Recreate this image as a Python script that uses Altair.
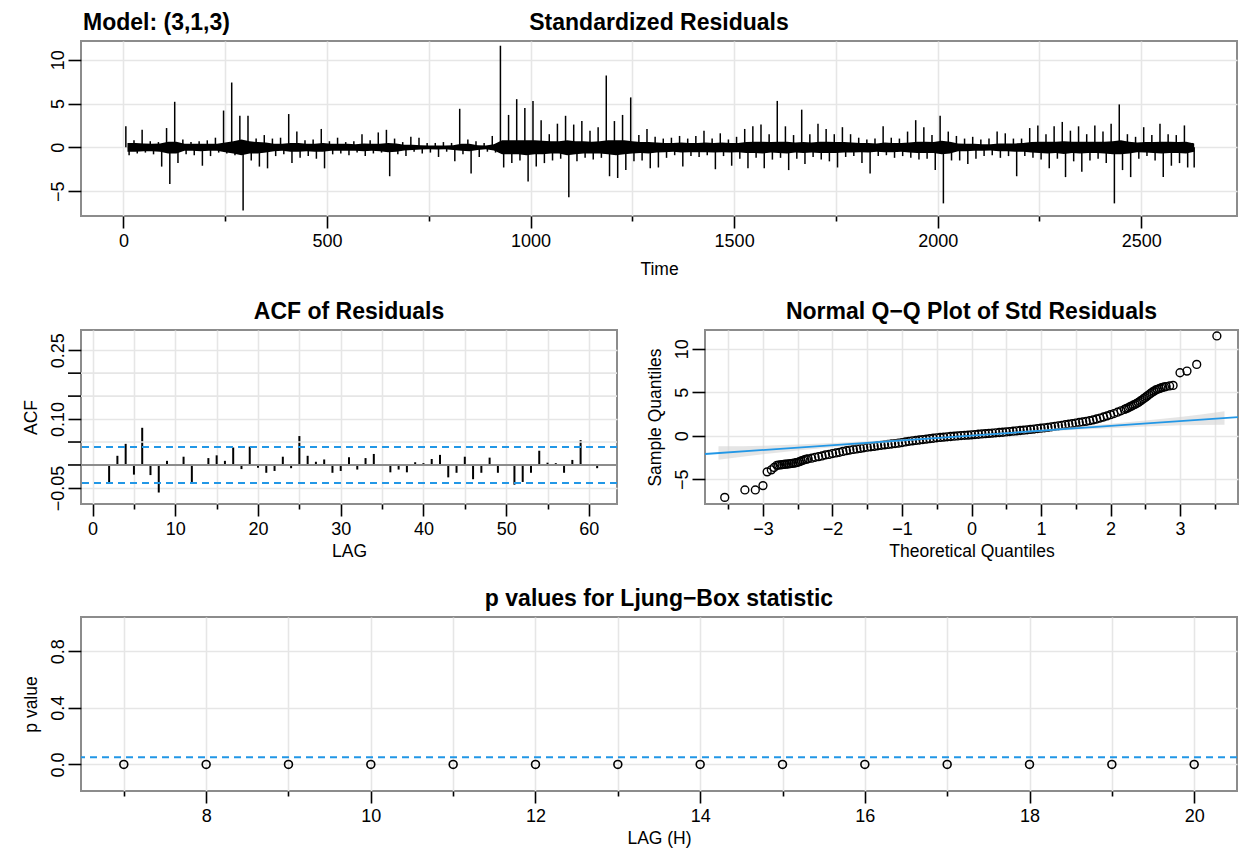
import altair as alt
import pandas as pd

FONT = "Liberation Sans"
BLUE = "#2297E6"

# ---------------- Standardized residuals: per 20-step bin extremes
res_hi = [2.4, 0.8, 2.0, 0.7, 0.6, 2.2, 5.2, 0.9, 0.6, 0.7,
          0.8, 1.1, 4.2, 7.4, 3.6, 3.6, 1.0, 1.4, 1.0, 1.1,
          3.8, 1.8, 0.8, 0.9, 2.1, 0.7, 1.1, 0.6, 0.7, 1.5,
          0.8, 1.7, 2.0, 1.0, 0.6, 1.2, 1.1, 0.5, 0.5, 0.6,
          0.5, 4.4, 0.9, 0.7, 0.5, 1.3, 11.6, 3.7, 5.5, 4.5,
          5.3, 3.1, 1.5, 2.7, 3.6, 2.6, 3.0, 1.9, 2.3, 8.2,
          3.0, 3.7, 5.7, 1.4, 2.1, 1.2, 1.0, 1.1, 1.3, 1.0,
          1.3, 1.9, 1.0, 1.6, 0.9, 1.2, 2.1, 2.4, 2.6, 1.5,
          5.3, 2.4, 1.4, 4.3, 1.5, 2.7, 2.1, 1.5, 2.3, 1.5,
          1.1, 0.9, 1.0, 2.4, 1.1, 1.0, 1.8, 3.1, 2.3, 1.4,
          3.6, 1.8, 1.3, 1.0, 1.2, 0.9, 1.0, 1.8, 1.6, 1.0,
          1.0, 2.2, 2.5, 1.5, 2.4, 2.9, 1.9, 2.4, 1.5, 2.5,
          1.8, 2.7, 4.9, 1.5, 1.2, 2.3, 1.4, 2.7, 1.5, 1.4,
          2.5, 0.5]
res_lo = [-0.9, -0.7, -0.6, -0.8, -2.2, -4.2, -1.8, -0.8, -0.9, -2.1,
          -1.0, -0.6, -0.7, -0.9, -7.2, -1.5, -2.2, -2.4, -1.0, -0.8,
          -1.8, -1.2, -1.0, -1.3, -2.4, -0.8, -0.7, -0.9, -0.6, -1.0,
          -0.7, -0.6, -3.3, -0.8, -1.0, -0.5, -0.7, -0.6, -1.1, -0.5,
          -1.6, -0.8, -3.0, -1.1, -0.5, -0.6, -2.3, -1.8, -1.5, -3.9,
          -2.2, -1.8, -1.5, -1.3, -5.7, -1.6, -1.2, -1.4, -1.2, -3.3,
          -3.5, -2.6, -1.6, -1.5, -2.4, -2.3, -1.2, -0.9, -2.2, -1.0,
          -1.1, -0.9, -2.5, -1.0, -2.1, -1.3, -2.4, -1.2, -2.4, -1.4,
          -1.2, -2.6, -1.3, -1.9, -1.1, -1.4, -1.6, -2.3, -1.1, -1.0,
          -1.8, -3.0, -1.0, -0.9, -1.2, -1.0, -1.2, -1.4, -1.3, -2.6,
          -6.4, -1.5, -1.5, -1.9, -1.3, -1.0, -0.9, -1.2, -1.0, -3.3,
          -1.0, -1.2, -1.4, -2.4, -1.3, -3.4, -1.6, -2.8, -1.5, -1.3,
          -1.8, -6.4, -2.6, -3.4, -1.3, -1.0, -1.5, -3.4, -2.1, -1.8,
          -2.3, -2.3]
# dense core of the trace per bin (where the black line is solid)
core_hi = [0.5, 0.5, 0.45, 0.4, 0.45, 0.65, 0.65, 0.4, 0.4, 0.4,
           0.4, 0.4, 0.55, 0.7, 0.9, 0.7, 0.6, 0.55, 0.4, 0.4,
           0.5, 0.5, 0.4, 0.4, 0.5, 0.4, 0.4, 0.4, 0.35, 0.45,
           0.4, 0.4, 0.5, 0.45, 0.3, 0.3, 0.25, 0.22, 0.22, 0.22,
           0.25, 0.4, 0.4, 0.25, 0.22, 0.35, 0.8, 0.8, 0.8, 0.8,
           0.8, 0.75, 0.7, 0.7, 0.8, 0.7, 0.7, 0.65, 0.7, 0.8,
           0.8, 0.8, 0.7, 0.6, 0.6, 0.55, 0.5, 0.5, 0.55, 0.5,
           0.5, 0.55, 0.5, 0.55, 0.5, 0.5, 0.6, 0.65, 0.65, 0.6,
           0.65, 0.65, 0.55, 0.6, 0.55, 0.65, 0.65, 0.6, 0.6, 0.55,
           0.5, 0.5, 0.45, 0.55, 0.5, 0.5, 0.55, 0.65, 0.65, 0.6,
           0.75, 0.65, 0.45, 0.4, 0.4, 0.35, 0.35, 0.45, 0.45, 0.45,
           0.5, 0.6, 0.65, 0.65, 0.65, 0.7, 0.65, 0.65, 0.65, 0.65,
           0.65, 0.7, 0.8, 0.65, 0.55, 0.6, 0.6, 0.65, 0.65, 0.6,
           0.65, 0.45]
core_lo = [-0.5, -0.5, -0.45, -0.45, -0.5, -0.7, -0.7, -0.4, -0.4, -0.45,
           -0.4, -0.4, -0.55, -0.7, -0.9, -0.7, -0.7, -0.6, -0.45, -0.4,
           -0.5, -0.5, -0.45, -0.5, -0.5, -0.4, -0.4, -0.4, -0.4, -0.45,
           -0.4, -0.45, -0.55, -0.5, -0.35, -0.3, -0.25, -0.22, -0.25, -0.22,
           -0.3, -0.4, -0.45, -0.3, -0.22, -0.35, -0.8, -0.8, -0.8, -0.9,
           -0.8, -0.8, -0.7, -0.7, -0.9, -0.8, -0.7, -0.7, -0.7, -0.8,
           -0.9, -0.8, -0.7, -0.65, -0.7, -0.6, -0.55, -0.5, -0.6, -0.55,
           -0.55, -0.55, -0.6, -0.55, -0.6, -0.55, -0.65, -0.65, -0.7, -0.6,
           -0.65, -0.7, -0.6, -0.65, -0.6, -0.65, -0.65, -0.65, -0.6, -0.6,
           -0.55, -0.6, -0.5, -0.55, -0.55, -0.5, -0.6, -0.65, -0.65, -0.65,
           -0.8, -0.7, -0.45, -0.45, -0.4, -0.4, -0.35, -0.45, -0.45, -0.5,
           -0.5, -0.6, -0.65, -0.7, -0.65, -0.75, -0.65, -0.7, -0.65, -0.65,
           -0.7, -0.8, -0.8, -0.7, -0.55, -0.6, -0.65, -0.7, -0.65, -0.65,
           -0.7, -0.5]
N_OBS = 2630
BIN = 20

# ---------------- ACF of residuals, lags 1..61
acf_vals = [0.002, -0.038, 0.020, 0.046, -0.021, 0.081, -0.022, -0.060, 0.009, 0.002,
            0.018, -0.037, -0.002, 0.015, 0.021, 0.009, 0.038, -0.009, 0.040, -0.006,
            -0.017, -0.013, 0.018, -0.007, 0.063, 0.020, 0.007, 0.012, -0.017, -0.013,
            0.017, -0.010, 0.015, 0.024, 0.001, -0.016, -0.010, -0.016, 0.006, 0.004,
            0.013, 0.022, -0.027, -0.017, 0.018, -0.031, -0.017, 0.016, -0.017, -0.002,
            -0.043, -0.037, -0.017, 0.031, 0.005, 0.004, -0.017, 0.011, 0.054, 0.002,
            -0.007]
acf_bound = 0.039
acf_label_ticks = [-0.05, 0.10, 0.25]
acf_other_ticks = [0.0, 0.05, 0.15, 0.20]

# ---------------- Normal Q-Q plot (theoretical, sample)
qq_theor = [-3.55, -3.26, -3.11, -3.00, -2.94, -2.88, -2.84,
            -2.80, -2.75, -2.70, -2.65, -2.60, -2.55, -2.50, -2.45, -2.40, -2.35,
            -2.30, -2.25, -2.20, -2.15, -2.10, -2.05, -2.00, -1.95, -1.90, -1.85,
            -1.80, -1.75, -1.70, -1.65, -1.60, -1.55, -1.50, -1.45, -1.40, -1.35,
            -1.30, -1.25, -1.20, -1.15, -1.10, -1.05, -1.00, -0.95, -0.90, -0.85,
            -0.80, -0.75, -0.70, -0.65, -0.60, -0.55, -0.50, -0.45, -0.40, -0.35,
            -0.30, -0.25, -0.20, -0.15, -0.10, -0.05, 0.00, 0.05, 0.10, 0.15,
            0.20, 0.25, 0.30, 0.35, 0.40, 0.45, 0.50, 0.55, 0.60, 0.65,
            0.70, 0.75, 0.80, 0.85, 0.90, 0.95, 1.00, 1.05, 1.10, 1.15,
            1.20, 1.25, 1.30, 1.35, 1.40, 1.45, 1.50, 1.55, 1.60, 1.65,
            1.70, 1.75, 1.80, 1.85, 1.90, 1.95, 2.00, 2.05, 2.10, 2.15,
            2.20, 2.25, 2.30, 2.35, 2.40, 2.45, 2.50, 2.55, 2.60, 2.65,
            2.70, 2.75, 2.80, 2.85, 2.90, 3.00, 3.10, 3.24, 3.53,
            2.225, 2.275, 2.325, 2.375, 2.425, 2.475, 2.525, 2.575, 2.625, 2.675, 2.725, 2.775,
            -2.775, -2.725, -2.675, -2.625, -2.575, -2.525, -2.475, -2.425, -2.375]
qq_sample = [-7.08, -6.23, -6.23, -5.73, -4.15, -3.92, -3.65,
             -3.40, -3.35, -3.30, -3.25, -3.20, -3.15, -3.05, -2.90, -2.75, -2.65,
             -2.58, -2.48, -2.40, -2.32, -2.20, -2.15, -2.05, -1.98, -1.90, -1.80,
             -1.72, -1.65, -1.58, -1.52, -1.45, -1.38, -1.32, -1.27, -1.22, -1.15,
             -1.10, -1.05, -1.00, -0.95, -0.90, -0.85, -0.78, -0.71, -0.64, -0.59,
             -0.54, -0.49, -0.44, -0.39, -0.34, -0.29, -0.24, -0.20, -0.16, -0.12,
             -0.09, -0.05, -0.02, 0.02, 0.05, 0.07, 0.10, 0.13, 0.17, 0.20,
             0.23, 0.27, 0.30, 0.34, 0.37, 0.40, 0.44, 0.48, 0.52, 0.56,
             0.60, 0.64, 0.68, 0.73, 0.77, 0.82, 0.86, 0.91, 0.96, 1.02,
             1.08, 1.14, 1.20, 1.26, 1.32, 1.38, 1.45, 1.52, 1.58, 1.65,
             1.73, 1.82, 1.92, 2.03, 2.15, 2.28, 2.42, 2.55, 2.70, 2.86,
             3.02, 3.20, 3.40, 3.60, 3.82, 4.10, 4.40, 4.70, 5.00, 5.25,
             5.40, 5.55, 5.65, 5.72, 5.78, 7.23, 7.42, 8.19, 11.46,
             3.11, 3.30, 3.50, 3.71, 3.96, 4.25, 4.55, 4.85, 5.12, 5.33, 5.48, 5.60,
             -3.37, -3.32, -3.27, -3.22, -3.17, -3.10, -2.98, -2.82, -2.70]
qq_line_x = [-3.834, 3.834]
qq_line_y = [-2.10, 2.14]
band_x = [-3.64, -3.3, -3.0, -2.5, -2.0, -1.5, -1.0, -0.5, 0.0, 0.5, 1.0, 1.5, 2.0, 2.5, 3.0, 3.3, 3.64]
band_lo = [-2.76, -2.40, -2.12, -1.71, -1.33, -0.98, -0.65, -0.35, -0.06, 0.21, 0.45, 0.68, 0.87, 1.05, 1.20, 1.24, 1.26]
band_hi = [-1.22, -1.20, -1.16, -1.01, -0.83, -0.64, -0.41, -0.17, 0.10, 0.39, 0.69, 1.02, 1.37, 1.75, 2.16, 2.44, 2.80]

# ---------------- Ljung-Box p values
lb_lags = [7, 8, 9, 10, 11, 12, 13, 14, 15, 16, 17, 18, 19, 20]
lb_p = [0.0] * 14
lb_alpha = 0.05

# ---------------- sizes
W1, H = 1156, 175
WA, WQ, H2 = 536, 533, 174
H3 = 174
TICK_MAJOR, TICK_MINOR, TICK_Y = 12, 5, 13
LBL, TTL, MAIN = 18, 17.5, 23
GRID = "#E6E6E6"


def title_mark(text, width):
    return alt.Chart(pd.DataFrame({"s": [text]})).mark_text(
        font=FONT, fontSize=MAIN, fontWeight="bold", color="black",
        align="center", baseline="alphabetic"
    ).encode(text="s:N", x=alt.value(width / 2), y=alt.value(-11))


def yaxis(values, label_test, fmt, title=""):
    return alt.Axis(values=values, title=title, labelAngle=270, labelAlign="center",
                    labelBaseline="alphabetic", labelPadding=5, tickSize=TICK_Y,
                    labelOverlap=False, labelFlush=False,
                    labelExpr=f"({label_test}) ? format(datum.value, '{fmt}') : ''",
                    titlePadding=9)


def xaxis(values, major_test, fmt, title, title_pad=4):
    return alt.Axis(values=values, title=title, labelPadding=4, titlePadding=title_pad,
                    labelOverlap=False, labelFlush=False,
                    labelExpr=f"({major_test}) ? format(datum.value, '{fmt}') : ''",
                    tickSize={"condition": {"test": major_test, "value": TICK_MAJOR},
                              "value": TICK_MINOR})


# ---------------- panel 1: standardized residuals
up_df = pd.DataFrame({"t": [BIN * i + 6 for i in range(len(res_hi))], "a": 0.0, "b": res_hi})
dn_df = pd.DataFrame({"t": [min(BIN * i + 14, N_OBS) for i in range(len(res_lo))], "a": 0.0, "b": res_lo})
core_df = pd.DataFrame({"t": [min(BIN * i + 10, N_OBS) for i in range(len(core_hi))],
                        "a": core_lo, "b": core_hi})
pad_t = 0.04 * (N_OBS - 1)
ydom = [-7.84, 12.14]
x_res = alt.X("t:Q", scale=alt.Scale(domain=[1 - pad_t, N_OBS + pad_t], nice=False, zero=False),
              axis=xaxis(list(range(0, 2501, 250)), "datum.value % 500 === 0", "d", "Time", 10))
y_res = alt.Y("a:Q", scale=alt.Scale(domain=ydom, nice=False, zero=False),
              axis=yaxis([-5, 0, 5, 10], "true", "d"))
core = alt.Chart(core_df).mark_area(color="black", opacity=1).encode(x=x_res, y=y_res, y2="b:Q")
up = alt.Chart(up_df).mark_rule(color="black", strokeWidth=1.5).encode(x=x_res, y=y_res, y2="b:Q")
dn = alt.Chart(dn_df).mark_rule(color="black", strokeWidth=1.5).encode(x=x_res, y=y_res, y2="b:Q")
model_txt = alt.Chart(pd.DataFrame({"s": ["Model: (3,1,3)"]})).mark_text(
    font=FONT, fontSize=MAIN, fontWeight="bold", color="black", align="left", baseline="alphabetic"
).encode(text="s:N", x=alt.value(2), y=alt.value(-11))
panel1 = alt.layer(core, up, dn, model_txt, title_mark("Standardized Residuals", W1)).properties(
    width=W1, height=H)

# ---------------- panel 2: ACF
acf_df = pd.DataFrame({"lag": list(range(1, len(acf_vals) + 1)), "acf": acf_vals, "zero": 0.0})
acf_xs = alt.Scale(domain=[-1.4, 63.4], nice=False, zero=False)
acf_ys = alt.Scale(domain=[-0.085, 0.294], nice=False, zero=False)
acf_x = alt.X("lag:Q", scale=acf_xs,
              axis=xaxis(list(range(0, 61, 5)), "datum.value % 10 === 0", "d", "LAG"))
acf_y = alt.Y("zero:Q", scale=acf_ys,
              axis=alt.Axis(values=acf_label_ticks, title="ACF", labelAngle=270, labelAlign="center",
                            labelBaseline="alphabetic", labelPadding=5, tickSize=TICK_Y,
                            labelOverlap=False, labelFlush=False, format=".2f", titlePadding=9))
other_df = pd.DataFrame({"g": acf_other_ticks})
acf_grid = alt.Chart(other_df).mark_rule(color=GRID, strokeWidth=1.6).encode(y=alt.Y("g:Q", scale=acf_ys))
acf_ticks = alt.Chart(other_df).mark_rule(color="black", strokeWidth=1.6).encode(
    y=alt.Y("g:Q", scale=acf_ys), x=alt.value(-TICK_Y), x2=alt.value(0))
acf_sticks = alt.Chart(acf_df).mark_rule(color="black", strokeWidth=2).encode(x=acf_x, y=acf_y, y2="acf:Q")
zero_line = alt.Chart(acf_df).mark_rule(color="#8c8c8c", strokeWidth=1.6).encode(y=alt.datum(0))
bound_df = pd.DataFrame({"b": [acf_bound, -acf_bound]})
bounds = alt.Chart(bound_df).mark_rule(color=BLUE, strokeWidth=2, strokeDash=[7, 5]).encode(
    y=alt.Y("b:Q", scale=acf_ys))
panel_acf = alt.layer(acf_sticks, acf_grid, acf_ticks, zero_line, bounds,
                      title_mark("ACF of Residuals", WA)).properties(width=WA, height=H2)

# ---------------- panel 3: normal Q-Q
qq_df = pd.DataFrame({"tq": qq_theor, "sq": qq_sample})
qq_xaxis = xaxis([v / 2 for v in range(-7, 8)], "abs(datum.value - round(datum.value)) < 0.001",
                 ".0f", "Theoretical Quantiles")
qq_yaxis = yaxis([-5, 0, 5, 10], "true", "d", "Sample Quantiles")
qq_xs = alt.Scale(domain=[-3.834, 3.834], nice=False, zero=False)
qq_ys = alt.Scale(domain=ydom, nice=False, zero=False)
qq_pts = alt.Chart(qq_df).mark_point(shape="circle", filled=False, color="black", size=62, strokeWidth=1.4,
                                     opacity=1).encode(
    x=alt.X("tq:Q", scale=qq_xs, axis=qq_xaxis), y=alt.Y("sq:Q", scale=qq_ys, axis=qq_yaxis))
band_df = pd.DataFrame({"tq": band_x, "lo": band_lo, "hi": band_hi})
band = alt.Chart(band_df).mark_area(color="#d4d4d4", opacity=0.6).encode(
    x=alt.X("tq:Q", scale=qq_xs, axis=qq_xaxis), y=alt.Y("lo:Q", scale=qq_ys, axis=qq_yaxis), y2="hi:Q")
qline_df = pd.DataFrame({"tq": qq_line_x, "sq": qq_line_y})
qline = alt.Chart(qline_df).mark_line(color=BLUE, strokeWidth=1.8, clip=True).encode(
    x=alt.X("tq:Q", scale=qq_xs, axis=qq_xaxis), y=alt.Y("sq:Q", scale=qq_ys, axis=qq_yaxis))
panel_qq = alt.layer(qq_pts, band, qline, title_mark("Normal Q\u2212Q Plot of Std Residuals", WQ)).properties(
    width=WQ, height=H2)

# ---------------- panel 4: Ljung-Box
lb_df = pd.DataFrame({"lag": lb_lags, "p": lb_p})
lb_x = alt.X("lag:Q", scale=alt.Scale(domain=[6.48, 20.52], nice=False, zero=False),
             axis=xaxis(lb_lags, "datum.value % 2 === 0", "d", "LAG (H)"))
lb_y = alt.Y("p:Q", scale=alt.Scale(domain=[-0.188, 1.042], nice=False, zero=False),
             axis=yaxis([0, 0.2, 0.4, 0.6, 0.8, 1.0],
                        "abs(datum.value) < 0.001 || abs(datum.value - 0.4) < 0.001 || abs(datum.value - 0.8) < 0.001",
                        ".1f", "p value"))
lb_pts = alt.Chart(lb_df).mark_point(shape="circle", filled=False, color="black", size=62, strokeWidth=1.6,
                                     opacity=1).encode(x=lb_x, y=lb_y)
lb_line = alt.Chart(pd.DataFrame({"a": [lb_alpha]})).mark_rule(color=BLUE, strokeWidth=2, strokeDash=[7, 5]).encode(
    y=alt.Y("a:Q"))
panel_lb = alt.layer(lb_pts, lb_line, title_mark("p values for Ljung\u2212Box statistic", W1)).properties(
    width=W1, height=H3)

# spacer row (the nested row counts as zero height in a flush layout)
spacer = alt.Chart(pd.DataFrame({"a": [0]})).mark_point(opacity=0).encode(
    x=alt.value(0), y=alt.value(0)).properties(width=10, height=59, view=alt.ViewBackground(stroke="transparent"))

middle = alt.hconcat(panel_acf, panel_qq, spacing=88, bounds="flush")
chart = alt.vconcat(panel1, middle, spacer, panel_lb, spacing=114, bounds="flush").properties(
    padding={"left": 20, "top": 11, "right": 8, "bottom": 8},
    background="white",
).configure_view(stroke="#8c8c8c", strokeWidth=2).configure_axis(
    labelFont=FONT, labelFontSize=LBL, labelColor="black",
    titleFont=FONT, titleFontSize=TTL, titleColor="black", titleFontWeight="normal",
    tickColor="black", tickWidth=1.6, domain=False,
    gridColor=GRID, gridWidth=1.6, labelOverlap=False, labelFlush=False,
)

chart.save("out.html", embed_options={"renderer": "svg", "actions": False})
